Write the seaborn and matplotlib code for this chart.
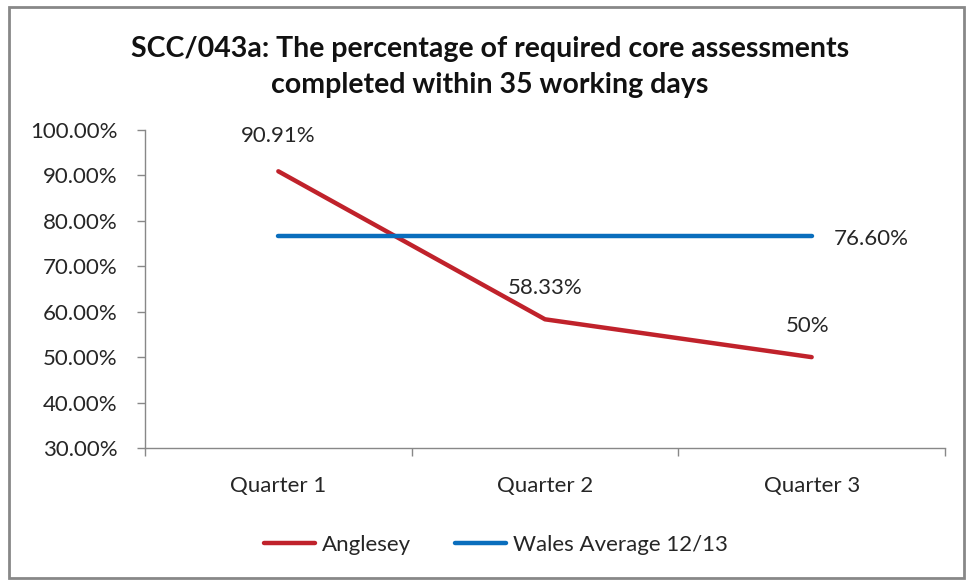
import matplotlib
matplotlib.use("Agg")
import matplotlib.pyplot as plt
import seaborn as sns
import pandas as pd
from matplotlib.patches import Rectangle
from matplotlib.ticker import FuncFormatter

quarters = ["Quarter 1", "Quarter 2", "Quarter 3"]
anglesey = [90.91, 58.33, 50.0]
wales_avg = [76.60, 76.60, 76.60]
anglesey_labels = ["90.91%", "58.33%", "50%"]
wales_label = "76.60%"
series_names = ["Anglesey", "Wales Average 12/13"]
title = "SCC/043a: The percentage of required core assessments\ncompleted within 35 working days"

sns.set_theme(style="white")
plt.rcParams['font.family'] = ['Lato', 'DejaVu Sans']

df = pd.DataFrame({
    "quarter": quarters * 2,
    "x": list(range(len(quarters))) * 2,
    "value": anglesey + wales_avg,
    "series": [series_names[0]] * 3 + [series_names[1]] * 3,
})

FS = 16
TXT = "#262626"

fig = plt.figure(figsize=(9.66, 5.8), dpi=100)
ax = fig.add_axes([145/966, 1 - 448/580, 800/966, 318/580])

palette = {series_names[0]: "#C0222B", series_names[1]: "#0A6EBD"}
sns.lineplot(data=df, x="x", y="value", hue="series", palette=palette,
             linewidth=3.2, ax=ax, legend=True, solid_capstyle="round")

ax.set_xlim(-0.5, 2.5)
ax.set_ylim(30, 100)
ax.set_yticks(range(30, 101, 10))
ax.yaxis.set_major_formatter(FuncFormatter(lambda v, p: f"{v:.2f}%"))
ax.set_xticks([-0.5, 0.5, 1.5, 2.5])
ax.set_xticklabels([])
ax.set_xticks(range(3), minor=True)
ax.set_xticklabels(quarters, minor=True)
ax.tick_params(axis="x", which="minor", length=0, pad=20, labelsize=FS, colors=TXT)
ax.tick_params(axis="x", which="major", direction="out", length=6, width=1, color="#888888", bottom=True)
ax.tick_params(axis="y", direction="out", length=6, width=1, color="#888888", left=True,
               labelsize=FS, colors=TXT, pad=14)
ax.set_xlabel("")
ax.set_ylabel("")
for s in ["top", "right"]:
    ax.spines[s].set_visible(False)
for s in ["left", "bottom"]:
    ax.spines[s].set_color("#888888")
    ax.spines[s].set_linewidth(1)

offsets = [(0, 18), (0, 15), (-3, 15)]
for i, (v, lab) in enumerate(zip(anglesey, anglesey_labels)):
    ax.annotate(lab, (i, v), xytext=offsets[i], textcoords="offset points",
                ha="center", va="bottom", fontsize=FS, color=TXT)
ax.annotate(wales_label, (2, wales_avg[2]), xytext=(16, -2), textcoords="offset points",
            ha="left", va="center", fontsize=FS, color=TXT)

leg = ax.legend(loc="center", frameon=False,
                ncol=2, fontsize=FS, handlelength=2.3, handletextpad=0.3, columnspacing=2.0)
leg.set_bbox_to_anchor((496/966, 1 - 545/580), transform=fig.transFigure)
for t in leg.get_texts():
    t.set_color(TXT)

fig.text(490/966, 1 - 67/580, title, ha="center", va="center", fontsize=20.5,
         fontweight="bold", color="#111111", linespacing=1.5)

fig.patches.append(Rectangle((9/966, 2/580), 955/966, 571/580, transform=fig.transFigure,
                             fill=False, edgecolor="#888888", linewidth=2))

fig.savefig("out.png", dpi=100)
